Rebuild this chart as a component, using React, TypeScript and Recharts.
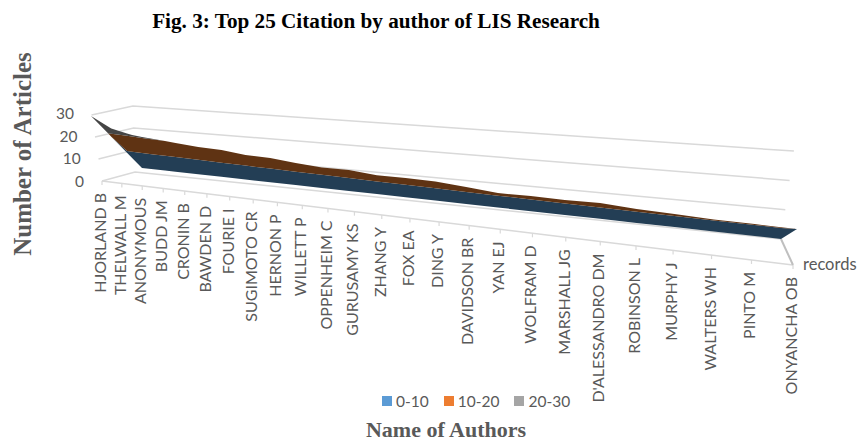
import React from 'react';
import { ComposedChart, Area, XAxis, YAxis, Legend } from 'recharts';

const authors = [
  'HJORLAND B', 'THELWALL M', 'ANONYMOUS', 'BUDD JM', 'CRONIN B', 'BAWDEN D', 'FOURIE I', 'SUGIMOTO CR',
  'HERNON P', 'WILLETT P', 'OPPENHEIM C', 'GURUSAMY KS', 'ZHANG Y', 'FOX EA', 'DING Y', 'DAVIDSON BR',
  'YAN EJ', 'WOLFRAM D', 'MARSHALL JG', "D'ALESSANDRO DM", 'ROBINSON L', 'MURPHY J', 'WALTERS WH', 'PINTO M', 'ONYANCHA OB',
];
const records = [
  29.5, 23.4, 21, 20.3, 19.6, 18.9, 19, 17.6, 17.8, 16.5, 15.6, 16.3, 14.8,
  15.5, 15.6, 14.1, 12.2, 13, 13, 14, 12.4, 11.8, 10.8, 10.8, 10.6,
];
const valueTicks = [0, 10, 20, 30];
const legendLabels = ['0-10', '10-20', '20-30'];
const legendColors = ['#5b9bd5', '#ed7d31', '#a5a5a5'];

const WIDTH = 857;
const HEIGHT = 443;
const FONT = 'Lato, sans-serif';
const SERIF = '"Liberation Serif", serif';
const TEXT_GREY = '#595959';
const GRID = '#d9d9d9';

// fake 3D: a perspective along the author axis, then pixels in the chart frame
const persp = (s: number) => s / (1.47 - 0.47 * s);
const authorS = (i: number) => persp(i / (authors.length - 1));

const frontX = (i: number) => 102 + 691 * authorS(i);
const frontY = (i: number) => 181 + 84 * authorS(i);
const ribbonX = (i: number) => 91 + 706 * authorS(i);

const baseY = (x: number) => 168 + 0.111 * (x - 142);
const unitPx = (x: number) => 1.1 + 0.47 * ((797 - x) / 706) ** 2;
const clipY = (x: number) => {
  if (x < 142) return 116 + ((x - 91) * 52) / 51;
  if (x > 781) return 239 - ((x - 781) * 10) / 16;
  return baseY(x);
};

const upperPts = records.map((v, i) => {
  const x = ribbonX(i);
  return { x, y: baseY(x) - v * unitPx(x) };
});
const upperY = (x: number) => {
  for (let i = 1; i < upperPts.length; i++) {
    const a = upperPts[i - 1];
    const b = upperPts[i];
    if (x <= b.x) return a.y + ((x - a.x) / (b.x - a.x)) * (b.y - a.y);
  }
  return upperPts[upperPts.length - 1].y;
};
const levelY = (x: number, level: number) =>
  Math.min(clipY(x), Math.max(upperY(x), baseY(x) - level * unitPx(x)));

// author columns plus the corners of the ribbon outline
const columns = [...upperPts.map(p => p.x), 108, 127, 142, 165, 781].sort((a, b) => a - b);
const band = (from: number, to: number) =>
  columns.map(x => ({ x, range: [levelY(x, from), levelY(x, to)] }));

const gridLine = (v: number) => [
  { x: 102 - 0.35 * v, y: 181 - 2.2 * v },
  { x: 135 - 0.07 * v, y: 172 - 2.2 * v },
  { x: 781 + 0.43 * v, y: 239 - 2.93 * v },
];
const frontAxis = [
  { x: frontX(0), y: frontY(0) },
  { x: frontX(authors.length - 1), y: frontY(authors.length - 1) },
];
const depthAxis = [
  { x: 781, y: 239 },
  { x: 793, y: 265 },
];

const AuthorTick = ({ index }: any) => {
  const x = frontX(index);
  const y = frontY(index);
  return (
    <g>
      <line x1={x} y1={y} x2={x} y2={y + 4} stroke={GRID} strokeWidth={1.2} />
      <text
        transform={`translate(${x + 4},${y + 12}) rotate(-90)`}
        textAnchor="end"
        fontFamily={FONT}
        fontSize={16}
        fill={TEXT_GREY}
      >
        {authors[index]}
      </text>
    </g>
  );
};

const ValueTick = ({ index }: any) => {
  const v = valueTicks[index];
  return (
    <text x={84 - 0.33 * v} y={187 - 2.27 * v} textAnchor="end" fontFamily={FONT} fontSize={15.5} fill={TEXT_GREY}>
      {v}
    </text>
  );
};

const ChartLegend = () => (
  <div style={{ display: 'flex', fontFamily: FONT, fontSize: 15.5, color: TEXT_GREY, lineHeight: '18px' }}>
    {legendLabels.map((label, i) => (
      <div key={label} style={{ display: 'flex', alignItems: 'center', marginRight: 15 }}>
        <span style={{ width: 10, height: 10, background: legendColors[i], marginRight: 4 }} />
        {label}
      </div>
    ))}
  </div>
);

export default function App() {
  return (
    <div style={{ position: 'absolute', left: 0, top: 0, width: WIDTH, height: HEIGHT, background: '#fff' }}>
      <ComposedChart width={WIDTH} height={HEIGHT} margin={{ top: 0, right: 0, bottom: -1, left: -1 }}>
        <XAxis
          type="number"
          dataKey="x"
          domain={[0, WIDTH]}
          height={1}
          ticks={authors.map((_, i) => frontX(i))}
          interval={0}
          axisLine={false}
          tickLine={false}
          tick={AuthorTick}
        />
        <YAxis
          type="number"
          domain={[0, HEIGHT]}
          reversed
          width={1}
          ticks={valueTicks.map(v => 181 - 2.2 * v)}
          interval={0}
          axisLine={false}
          tickLine={false}
          tick={ValueTick}
        />
        <Legend
          verticalAlign="middle"
          layout="horizontal"
          content={ChartLegend}
          wrapperStyle={{ top: 392, left: 382, width: 220, margin: 0 }}
        />

        {valueTicks.map(v => (
          <Area key={v} data={gridLine(v)} dataKey="y" type="linear" fill="none" stroke={GRID} strokeWidth={1.5} dot={false} activeDot={false} legendType="none" isAnimationActive={false} />
        ))}
        <Area data={frontAxis} dataKey="y" type="linear" fill="none" stroke={GRID} strokeWidth={1.5} dot={false} activeDot={false} legendType="none" isAnimationActive={false} />
        <Area data={depthAxis} dataKey="y" type="linear" fill="none" stroke="#bfbfbf" strokeWidth={2} dot={false} activeDot={false} legendType="none" isAnimationActive={false} />

        <Area data={band(0, 10)} dataKey="range" name="0-10" type="linear" fill="#233e55" fillOpacity={1} stroke="none" dot={false} activeDot={false} isAnimationActive={false} />
        <Area data={band(10, 20)} dataKey="range" name="10-20" type="linear" fill="#5f3313" fillOpacity={1} stroke="none" dot={false} activeDot={false} isAnimationActive={false} />
        <Area data={band(20, 40)} dataKey="range" name="20-30" type="linear" fill="#454545" fillOpacity={1} stroke="none" dot={false} activeDot={false} isAnimationActive={false} />

        <text x={376} y={28} textAnchor="middle" fontFamily={SERIF} fontWeight="bold" fontSize={21.2} fill="#000">
          Fig. 3: Top 25 Citation by author of LIS Research
        </text>
        <text transform="translate(31,154) rotate(-90)" textAnchor="middle" fontFamily={SERIF} fontWeight="bold" fontSize={25} fill={TEXT_GREY}>
          Number of Articles
        </text>
        <text x={446} y={437} textAnchor="middle" fontFamily={SERIF} fontWeight="bold" fontSize={22} fill={TEXT_GREY}>
          Name of Authors
        </text>
        <text x={803} y={270} fontFamily={FONT} fontSize={16.5} fill={TEXT_GREY}>
          records
        </text>
      </ComposedChart>
    </div>
  );
}
